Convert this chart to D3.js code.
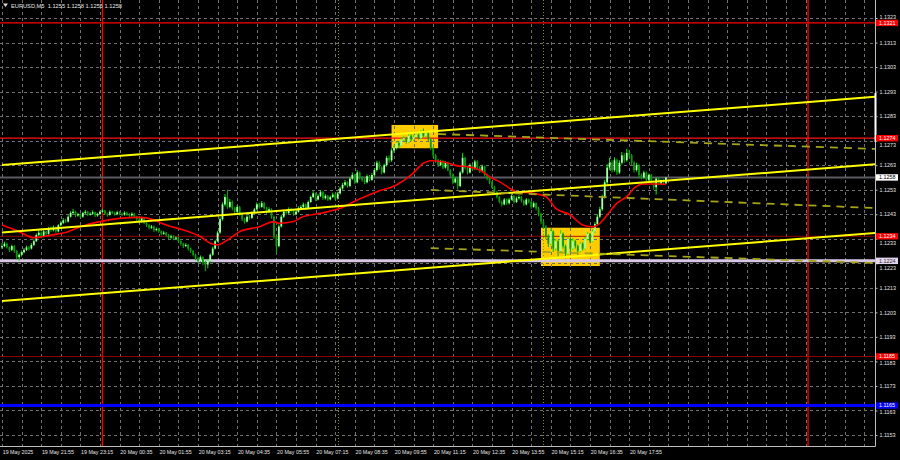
<!DOCTYPE html>
<html><head><meta charset="utf-8">
<script src="https://cdn.jsdelivr.net/npm/d3@7"></script>
<style>html,body{margin:0;padding:0;background:#000;overflow:hidden}svg{display:block}</style>
</head><body><svg id="c" width="900" height="460"></svg>
<script>
// ---------------- DATA ----------------
const symbolTitle = "EURUSD,M5  1.1255 1.1258 1.1255 1.1258";
const timeLabelBars = [0,16,32,48,64,80,96,112,128,144,160,176,192,208,224,240,256];
const timeLabels = ["19 May 2025","19 May 21:55","19 May 23:15","20 May 00:35","20 May 01:55","20 May 03:15","20 May 04:35","20 May 05:55","20 May 07:15","20 May 08:35","20 May 09:55","20 May 11:15","20 May 12:35","20 May 13:55","20 May 15:15","20 May 16:35","20 May 17:55"];
const priceTicks = [1.1323,1.1313,1.1303,1.1293,1.1283,1.1273,1.1263,1.1253,1.1243,1.1233,1.1223,1.1213,1.1203,1.1193,1.1183,1.1173,1.1163,1.1153];

const opens = [
1.12295,1.12300,1.12310,1.12295,1.12285,1.12300,1.12280,1.12255,1.12265,1.12275,
1.12285,1.12295,1.12290,1.12305,1.12320,1.12345,1.12355,1.12340,1.12360,1.12350,
1.12370,1.12365,1.12375,1.12360,1.12385,1.12395,1.12405,1.12400,1.12420,1.12435,
1.12440,1.12425,1.12430,1.12420,1.12435,1.12440,1.12428,1.12432,1.12438,1.12425,
1.12430,1.12440,1.12445,1.12432,1.12428,1.12440,1.12436,1.12430,1.12438,1.12432,
1.12428,1.12436,1.12430,1.12425,1.12432,1.12420,1.12410,1.12400,1.12415,1.12395,
1.12385,1.12375,1.12380,1.12365,1.12370,1.12360,1.12350,1.12355,1.12345,1.12335,
1.12340,1.12330,1.12335,1.12320,1.12310,1.12300,1.12305,1.12290,1.12280,1.12265,
1.12250,1.12240,1.12255,1.12235,1.12225,1.12240,1.12265,1.12290,1.12320,1.12355,
1.12410,1.12470,1.12500,1.12460,1.12480,1.12455,1.12440,1.12460,1.12430,1.12410,
1.12400,1.12420,1.12415,1.12435,1.12450,1.12470,1.12460,1.12475,1.12455,1.12440,
1.12450,1.12420,1.12340,1.12300,1.12380,1.12420,1.12440,1.12435,1.12450,1.12445,
1.12430,1.12440,1.12455,1.12460,1.12470,1.12455,1.12480,1.12500,1.12515,1.12490,
1.12505,1.12520,1.12495,1.12505,1.12490,1.12500,1.12510,1.12495,1.12515,1.12535,
1.12550,1.12560,1.12545,1.12575,1.12590,1.12560,1.12600,1.12580,1.12570,1.12560,
1.12585,1.12570,1.12590,1.12610,1.12640,1.12620,1.12600,1.12630,1.12660,1.12650,
1.12690,1.12700,1.12720,1.12710,1.12735,1.12740,1.12725,1.12750,1.12735,1.12745,
1.12755,1.12740,1.12765,1.12750,1.12760,1.12735,1.12700,1.12670,1.12650,1.12630,
1.12645,1.12620,1.12640,1.12610,1.12590,1.12560,1.12575,1.12545,1.12600,1.12660,
1.12620,1.12600,1.12630,1.12615,1.12645,1.12620,1.12605,1.12625,1.12590,1.12575,
1.12560,1.12540,1.12520,1.12500,1.12480,1.12470,1.12490,1.12475,1.12490,1.12505,
1.12480,1.12495,1.12500,1.12485,1.12470,1.12490,1.12480,1.12460,1.12475,1.12455,
1.12430,1.12400,1.12380,1.12340,1.12310,1.12360,1.12290,1.12320,1.12280,1.12350,
1.12300,1.12270,1.12330,1.12290,1.12320,1.12300,1.12280,1.12310,1.12290,1.12330,
1.12350,1.12320,1.12360,1.12390,1.12420,1.12450,1.12500,1.12560,1.12620,1.12640,
1.12610,1.12650,1.12600,1.12640,1.12670,1.12650,1.12680,1.12670,1.12640,1.12610,
1.12630,1.12590,1.12580,1.12600,1.12570,1.12590,1.12560,1.12540,1.12575,1.12555,
1.12565,1.12555];
const highs = [
1.12312,1.12318,1.12314,1.12298,1.12306,1.12304,1.12284,1.12270,1.12282,1.12292,
1.12302,1.12300,1.12312,1.12328,1.12352,1.12366,1.12360,1.12368,1.12364,1.12378,
1.12380,1.12384,1.12380,1.12390,1.12402,1.12414,1.12412,1.12426,1.12442,1.12452,
1.12444,1.12436,1.12434,1.12440,1.12448,1.12444,1.12438,1.12446,1.12440,1.12436,
1.12446,1.12452,1.12448,1.12436,1.12446,1.12444,1.12440,1.12444,1.12442,1.12436,
1.12442,1.12440,1.12434,1.12438,1.12436,1.12424,1.12414,1.12420,1.12418,1.12400,
1.12390,1.12386,1.12384,1.12376,1.12374,1.12364,1.12362,1.12358,1.12350,1.12346,
1.12344,1.12340,1.12338,1.12324,1.12314,1.12312,1.12308,1.12294,1.12284,1.12270,
1.12256,1.12262,1.12258,1.12240,1.12248,1.12270,1.12298,1.12326,1.12362,1.12418,
1.12478,1.12512,1.12530,1.12492,1.12486,1.12460,1.12468,1.12464,1.12436,1.12416,
1.12426,1.12428,1.12442,1.12456,1.12478,1.12476,1.12484,1.12480,1.12460,1.12458,
1.12454,1.12424,1.12346,1.12388,1.12428,1.12448,1.12446,1.12458,1.12456,1.12448,
1.12446,1.12462,1.12468,1.12478,1.12474,1.12486,1.12506,1.12524,1.12518,1.12512,
1.12528,1.12524,1.12512,1.12508,1.12506,1.12518,1.12514,1.12522,1.12542,1.12558,
1.12570,1.12564,1.12582,1.12600,1.12594,1.12610,1.12604,1.12586,1.12576,1.12592,
1.12590,1.12598,1.12618,1.12648,1.12646,1.12626,1.12636,1.12668,1.12670,1.12698,
1.12712,1.12728,1.12726,1.12742,1.12750,1.12746,1.12758,1.12756,1.12754,1.12764,
1.12760,1.12772,1.12780,1.12768,1.12764,1.12740,1.12706,1.12676,1.12656,1.12652,
1.12650,1.12646,1.12644,1.12614,1.12596,1.12582,1.12580,1.12606,1.12680,1.12664,
1.12626,1.12638,1.12636,1.12652,1.12650,1.12626,1.12632,1.12628,1.12596,1.12580,
1.12566,1.12546,1.12526,1.12504,1.12486,1.12496,1.12494,1.12496,1.12512,1.12508,
1.12502,1.12508,1.12504,1.12490,1.12496,1.12494,1.12484,1.12482,1.12478,1.12460,
1.12436,1.12408,1.12386,1.12348,1.12372,1.12364,1.12330,1.12326,1.12366,1.12356,
1.12306,1.12340,1.12336,1.12332,1.12326,1.12306,1.12318,1.12316,1.12338,1.12358,
1.12354,1.12368,1.12398,1.12430,1.12460,1.12510,1.12570,1.12634,1.12660,1.12650,
1.12662,1.12656,1.12650,1.12684,1.12678,1.12697,1.12692,1.12676,1.12646,1.12640,
1.12634,1.12596,1.12608,1.12604,1.12596,1.12594,1.12566,1.12580,1.12580,1.12572,
1.12572,1.12580];
const lows = [
1.12288,1.12296,1.12290,1.12276,1.12280,1.12272,1.12246,1.12240,1.12258,1.12270,
1.12280,1.12282,1.12286,1.12300,1.12316,1.12340,1.12332,1.12336,1.12344,1.12346,
1.12358,1.12360,1.12354,1.12356,1.12380,1.12390,1.12394,1.12396,1.12416,1.12430,
1.12418,1.12420,1.12414,1.12416,1.12430,1.12422,1.12424,1.12428,1.12418,1.12420,
1.12426,1.12436,1.12428,1.12420,1.12424,1.12430,1.12424,1.12426,1.12426,1.12422,
1.12424,1.12424,1.12418,1.12420,1.12414,1.12402,1.12392,1.12396,1.12390,1.12378,
1.12368,1.12370,1.12358,1.12360,1.12354,1.12344,1.12346,1.12338,1.12328,1.12330,
1.12324,1.12326,1.12314,1.12302,1.12292,1.12296,1.12282,1.12272,1.12258,1.12242,
1.12230,1.12236,1.12222,1.12198,1.12210,1.12234,1.12260,1.12286,1.12316,1.12350,
1.12404,1.12462,1.12452,1.12454,1.12446,1.12432,1.12436,1.12424,1.12402,1.12392,
1.12396,1.12408,1.12410,1.12430,1.12446,1.12454,1.12456,1.12450,1.12432,1.12436,
1.12412,1.12330,1.12270,1.12296,1.12376,1.12414,1.12428,1.12430,1.12438,1.12424,
1.12426,1.12436,1.12450,1.12454,1.12448,1.12450,1.12476,1.12496,1.12484,1.12486,
1.12500,1.12488,1.12490,1.12484,1.12486,1.12496,1.12488,1.12490,1.12510,1.12530,
1.12544,1.12538,1.12540,1.12570,1.12552,1.12556,1.12572,1.12562,1.12552,1.12556,
1.12564,1.12566,1.12584,1.12604,1.12612,1.12592,1.12596,1.12624,1.12640,1.12644,
1.12680,1.12694,1.12700,1.12706,1.12728,1.12718,1.12720,1.12728,1.12730,1.12740,
1.12734,1.12736,1.12744,1.12744,1.12726,1.12692,1.12660,1.12640,1.12622,1.12626,
1.12614,1.12616,1.12604,1.12582,1.12552,1.12556,1.12530,1.12540,1.12596,1.12612,
1.12592,1.12596,1.12608,1.12610,1.12612,1.12598,1.12600,1.12584,1.12568,1.12552,
1.12534,1.12512,1.12494,1.12474,1.12462,1.12466,1.12468,1.12470,1.12486,1.12474,
1.12476,1.12490,1.12478,1.12464,1.12466,1.12474,1.12452,1.12456,1.12446,1.12422,
1.12390,1.12370,1.12328,1.12296,1.12304,1.12276,1.12282,1.12258,1.12274,1.12290,
1.12250,1.12264,1.12276,1.12284,1.12290,1.12262,1.12274,1.12282,1.12286,1.12324,
1.12312,1.12316,1.12354,1.12384,1.12414,1.12444,1.12494,1.12552,1.12610,1.12600,
1.12604,1.12590,1.12594,1.12632,1.12640,1.12644,1.12660,1.12630,1.12600,1.12604,
1.12580,1.12572,1.12574,1.12562,1.12564,1.12552,1.12530,1.12510,1.12548,1.12550,
1.12550,1.12555];
const closes = [
1.12300,1.12310,1.12295,1.12285,1.12300,1.12280,1.12255,1.12265,1.12275,1.12285,
1.12295,1.12290,1.12305,1.12320,1.12345,1.12355,1.12340,1.12360,1.12350,1.12370,
1.12365,1.12375,1.12360,1.12385,1.12395,1.12405,1.12400,1.12420,1.12435,1.12440,
1.12425,1.12430,1.12420,1.12435,1.12440,1.12428,1.12432,1.12438,1.12425,1.12430,
1.12440,1.12445,1.12432,1.12428,1.12440,1.12436,1.12430,1.12438,1.12432,1.12428,
1.12436,1.12430,1.12425,1.12432,1.12420,1.12410,1.12400,1.12415,1.12395,1.12385,
1.12375,1.12380,1.12365,1.12370,1.12360,1.12350,1.12355,1.12345,1.12335,1.12340,
1.12330,1.12335,1.12320,1.12310,1.12300,1.12305,1.12290,1.12280,1.12265,1.12250,
1.12240,1.12255,1.12235,1.12225,1.12240,1.12265,1.12290,1.12320,1.12355,1.12410,
1.12470,1.12500,1.12460,1.12480,1.12455,1.12440,1.12460,1.12430,1.12410,1.12400,
1.12420,1.12415,1.12435,1.12450,1.12470,1.12460,1.12475,1.12455,1.12440,1.12450,
1.12420,1.12340,1.12300,1.12380,1.12420,1.12440,1.12435,1.12450,1.12445,1.12430,
1.12440,1.12455,1.12460,1.12470,1.12455,1.12480,1.12500,1.12515,1.12490,1.12505,
1.12520,1.12495,1.12505,1.12490,1.12500,1.12510,1.12495,1.12515,1.12535,1.12550,
1.12560,1.12545,1.12575,1.12590,1.12560,1.12600,1.12580,1.12570,1.12560,1.12585,
1.12570,1.12590,1.12610,1.12640,1.12620,1.12600,1.12630,1.12660,1.12650,1.12690,
1.12700,1.12720,1.12710,1.12735,1.12740,1.12725,1.12750,1.12735,1.12745,1.12755,
1.12740,1.12765,1.12750,1.12760,1.12735,1.12700,1.12670,1.12650,1.12630,1.12645,
1.12620,1.12640,1.12610,1.12590,1.12560,1.12575,1.12545,1.12600,1.12660,1.12620,
1.12600,1.12630,1.12615,1.12645,1.12620,1.12605,1.12625,1.12590,1.12575,1.12560,
1.12540,1.12520,1.12500,1.12480,1.12470,1.12490,1.12475,1.12490,1.12505,1.12480,
1.12495,1.12500,1.12485,1.12470,1.12490,1.12480,1.12460,1.12475,1.12455,1.12430,
1.12400,1.12380,1.12340,1.12310,1.12360,1.12290,1.12320,1.12280,1.12350,1.12300,
1.12270,1.12330,1.12290,1.12320,1.12300,1.12280,1.12310,1.12290,1.12330,1.12350,
1.12320,1.12360,1.12390,1.12420,1.12450,1.12500,1.12560,1.12620,1.12640,1.12610,
1.12650,1.12600,1.12640,1.12670,1.12650,1.12680,1.12670,1.12640,1.12610,1.12630,
1.12590,1.12580,1.12600,1.12570,1.12590,1.12560,1.12540,1.12575,1.12555,1.12565,
1.12555,1.12580];

// moving average (red line) read at these bar indices
const maBars = [0,7,13,20,27,32,40,48,56,62,67,74,81,85,88,92,97,105,111,113,119,122,130,138,145,153,161,167,172,175,180,186,190,195,200,203,210,217,222,226,232,237,241,244,247,251,255,258,262,267,271];
const maValues = [1.12386,1.12359,1.12334,1.12345,1.12359,1.12379,1.12400,1.12413,1.12417,1.12407,1.12386,1.12366,1.12338,1.12312,1.12305,1.12325,1.12359,1.12379,1.12400,1.12393,1.12400,1.12417,1.12434,1.12454,1.12488,1.12522,1.12549,1.12590,1.12638,1.12648,1.12644,1.12627,1.12624,1.12610,1.12577,1.12563,1.12522,1.12515,1.12502,1.12454,1.12427,1.12386,1.12379,1.12393,1.12427,1.12475,1.12502,1.12536,1.12553,1.12553,1.12552];

// horizontal levels
const levelPrices = [1.1321, 1.1274, 1.1258, 1.1234, 1.1224, 1.1185, 1.1165];

// channel trend lines (anchor bars / prices)
const trendBars = [0, 357];
const upperTrend = [1.12631, 1.12909];
const middleTrend = [1.12356, 1.12634];
const lowerTrend = [1.12076, 1.12354];

// dashed lines
const dashStartBars = [178, 175, 175];
const dashEndBars = [357, 357, 357];
const dashStartPrices = [1.12757, 1.12529, 1.12292];
const dashEndPrices = [1.12696, 1.12455, 1.12231];

// highlight rectangles
const boxStartBars = [159, 220];
const boxEndBars = [178, 244];
const boxTopPrices = [1.12794, 1.12375];
const boxBottomPrices = [1.12699, 1.12219];

// separators
const daySeparatorBars = [41, 329];
const sessionBars = [137, 221];

// ---------------- DRAW ----------------
const W = 900, H = 460, PR = 875, PB = 446;
const FONT = "'Liberation Sans', Arial, sans-serif";
const x = d3.scaleLinear().domain([0, 357]).range([2, 2 + 357 * 2.45]);
const y = d3.scaleLinear().domain([1.1153, 1.1323]).range([435, 18]);

const svg = d3.select("#c");
svg.append("rect").attr("width", W).attr("height", H).attr("fill", "#000");
svg.append("defs").append("clipPath").attr("id", "clip")
  .append("rect").attr("x", 0).attr("y", 0).attr("width", PR).attr("height", PB);
const plot = svg.append("g").attr("clip-path", "url(#clip)");

// boxes (background)
plot.append("g").selectAll("rect").data(boxStartBars).join("rect")
  .attr("x", (d, i) => x(d)).attr("width", (d, i) => x(boxEndBars[i]) - x(d))
  .attr("y", (d, i) => y(boxTopPrices[i])).attr("height", (d, i) => y(boxBottomPrices[i]) - y(boxTopPrices[i]))
  .attr("fill", "#ffcc00");

// grid
const gridV = d3.range(0, 357, 8);
plot.append("g").selectAll("line").data(gridV).join("line")
  .attr("x1", d => Math.round(x(d)) + 0.5).attr("x2", d => Math.round(x(d)) + 0.5)
  .attr("y1", 0).attr("y2", PB)
  .attr("stroke", "#707070").attr("stroke-width", 1).attr("stroke-dasharray", "3,3");
plot.append("g").selectAll("line").data(priceTicks).join("line")
  .attr("y1", d => Math.round(y(d)) + 0.5).attr("y2", d => Math.round(y(d)) + 0.5)
  .attr("x1", 0).attr("x2", PR)
  .attr("stroke", "#707070").attr("stroke-width", 1).attr("stroke-dasharray", "3,3");

// separators
plot.append("g").selectAll("line").data(sessionBars).join("line")
  .attr("x1", d => Math.round(x(d)) + 0.5).attr("x2", d => Math.round(x(d)) + 0.5)
  .attr("y1", 0).attr("y2", PB)
  .attr("stroke", "#6f9a10").attr("stroke-width", 1).attr("stroke-dasharray", "1,2");
plot.append("g").selectAll("line").data(daySeparatorBars).join("line")
  .attr("x1", d => x(d)).attr("x2", d => x(d))
  .attr("y1", 0).attr("y2", PB)
  .attr("stroke", "#ff0000").attr("stroke-width", 1.3);

// horizontal levels
const levelStyle = [
  {stroke: "#ff0000", w: 1.2, fill: "#ff0000", text: "#ffffff"},
  {stroke: "#ff1010", w: 1.3, fill: "#ff0000", text: "#ffffff"},
  {stroke: "#5c5c64", w: 2, fill: "#ffffff", text: "#000000"},
  {stroke: "#a00000", w: 0.9, fill: "#ff0000", text: "#ffffff"},
  {stroke: "#d8c8e6", w: 3, fill: "#e4d6ee", text: "#303030"},
  {stroke: "#a00000", w: 0.9, fill: "#ff0000", text: "#ffffff"},
  {stroke: "#0000ff", w: 3, fill: "#0000ff", text: "#ffffff"}
];
plot.append("g").selectAll("line").data(levelPrices).join("line")
  .attr("x1", 0).attr("x2", PR).attr("y1", d => y(d)).attr("y2", d => y(d))
  .attr("stroke", (d, i) => levelStyle[i].stroke).attr("stroke-width", (d, i) => levelStyle[i].w);

// candles
const idx = d3.range(closes.length);
const upC = i => closes[i] >= opens[i];
const cg = plot.append("g");
cg.selectAll("line").data(idx).join("line")
  .attr("x1", i => x(i)).attr("x2", i => x(i))
  .attr("y1", i => y(highs[i])).attr("y2", i => y(lows[i]))
  .attr("stroke", i => upC(i) ? "#00f000" : "#00b400").attr("stroke-width", 1);
cg.selectAll("rect").data(idx).join("rect")
  .attr("x", i => x(i) - 0.9).attr("width", 1.8)
  .attr("y", i => y(Math.max(opens[i], closes[i])))
  .attr("height", i => Math.max(0.8, Math.abs(y(opens[i]) - y(closes[i]))))
  .attr("fill", i => upC(i) ? "#a6ffa6" : "#0a9a0a");

// moving average
plot.append("path")
  .datum(maBars)
  .attr("d", d3.line().x(b => x(b)).y((b, i) => y(maValues[i])).curve(d3.curveMonotoneX))
  .attr("fill", "none").attr("stroke", "#ff0000").attr("stroke-width", 1.6);

// trend lines
[upperTrend, middleTrend, lowerTrend].forEach(tr => {
  plot.append("line")
    .attr("x1", x(trendBars[0])).attr("y1", y(tr[0]))
    .attr("x2", x(trendBars[1])).attr("y2", y(tr[1]))
    .attr("stroke", "#ffff00").attr("stroke-width", 2);
});

// dashed lines
plot.append("g").selectAll("line").data(dashStartBars).join("line")
  .attr("x1", d => x(d)).attr("y1", (d, i) => y(dashStartPrices[i]))
  .attr("x2", (d, i) => x(dashEndBars[i])).attr("y2", (d, i) => y(dashEndPrices[i]))
  .attr("stroke", "#a4a41c").attr("stroke-width", 1.8).attr("stroke-dasharray", "8,6");

// axes frame
svg.append("line").attr("x1", PR + 0.5).attr("x2", PR + 0.5).attr("y1", 0).attr("y2", PB + 0.5)
  .attr("stroke", "#bdbdbd").attr("stroke-width", 1);
svg.append("line").attr("x1", 0).attr("x2", PR + 0.5).attr("y1", PB + 0.5).attr("y2", PB + 0.5)
  .attr("stroke", "#bdbdbd").attr("stroke-width", 1);
svg.append("rect").attr("x", PR - 0.5).attr("y", 93).attr("width", 2).attr("height", 49).attr("fill", "#ffffff");

// right axis
const yAxis = d3.axisRight(y).tickValues(priceTicks).tickFormat(d3.format(".4f")).tickSize(2).tickPadding(2);
const ya = svg.append("g").attr("transform", `translate(${PR + 0.5},0)`).call(yAxis);
ya.select(".domain").remove();
ya.selectAll("line").attr("stroke", "#bdbdbd");
// nudge tick labels that sit under a level label so both stay readable
const LAB_H = 6.6;
ya.selectAll(".tick text")
  .attr("fill", "#e6e6e6").attr("font-size", "5.4px").attr("font-family", FONT)
  .attr("y", d => {
    let off = 0;
    levelPrices.forEach(lp => {
      const dist = y(d) - y(lp);
      if (Math.abs(dist) < LAB_H) off = (dist >= 0 ? 1 : -1) * (LAB_H - Math.abs(dist));
    });
    return off;
  });

// bottom axis
const xAxis = d3.axisBottom(x).tickValues(timeLabelBars).tickFormat((d, i) => timeLabels[i]).tickSize(0).tickPadding(4);
const xa = svg.append("g").attr("transform", `translate(0,${PB + 0.5})`).call(xAxis);
xa.select(".domain").remove();
xa.selectAll("text").attr("fill", "#e6e6e6").attr("font-size", "5.3px").attr("font-family", FONT)
  .attr("text-anchor", "start").attr("dx", "0.2");

// level labels on axis
const lg = svg.append("g");
lg.selectAll("rect").data(levelPrices).join("rect")
  .attr("x", PR + 1).attr("width", 22).attr("y", d => y(d) - 3.2).attr("height", 6.4)
  .attr("fill", (d, i) => levelStyle[i].fill);
lg.selectAll("text").data(levelPrices).join("text")
  .attr("x", PR + 4).attr("y", d => y(d)).attr("dy", "0.35em")
  .attr("fill", (d, i) => levelStyle[i].text).attr("font-size", "5.4px").attr("font-family", FONT)
  .text(d => d3.format(".4f")(d));

// title
svg.append("path").attr("d", "M3,3.5 L8,3.5 L5.5,7 Z").attr("fill", "#d8d8d8");
svg.append("text").attr("x", 11).attr("y", 8.3).attr("fill", "#e6e6e6")
  .attr("font-size", "5.7px").attr("font-family", FONT).attr("xml:space", "preserve")
  .style("white-space", "pre").text(symbolTitle);
</script></body></html>
